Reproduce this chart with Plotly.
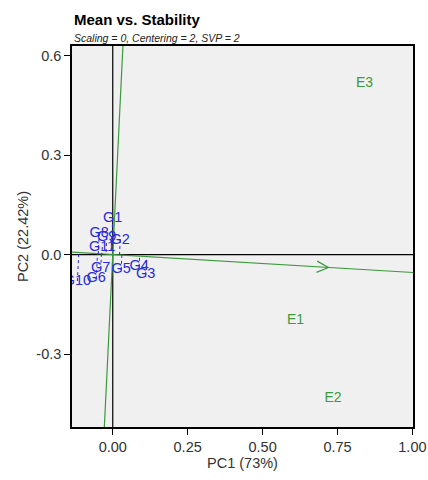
import numpy as np
import plotly.graph_objects as go

genotypes = ["G1", "G2", "G3", "G4", "G5", "G6", "G7", "G8", "G9", "G10", "G11"]
g_pc1 = [0.000, 0.025, 0.110, 0.088, 0.028, -0.055, -0.040, -0.045, -0.020, -0.118, -0.035]
g_pc2 = [0.110, 0.044, -0.061, -0.037, -0.046, -0.073, -0.043, 0.065, 0.053, -0.080, 0.023]

environments = ["E1", "E2", "E3"]
e_pc1 = [0.610, 0.735, 0.840]
e_pc2 = [-0.200, -0.435, 0.517]

x_range = [-0.136, 1.002]
y_range = [-0.52, 0.629]
x_ticks = [0.0, 0.25, 0.5, 0.75, 1.0]
x_ticklabels = ["0.00", "0.25", "0.50", "0.75", "1.00"]
y_ticks = [-0.3, 0.0, 0.3, 0.6]
y_ticklabels = ["-0.3", "0.0", "0.3", "0.6"]

green = "#3c9a3c"
blue = "#2a2ad8"
FONT = "Liberation Sans, Arial"

W, H = 428, 480
ML, MR, MT, MB = 72, 15, 46, 53
plot_h = H - MT - MB

# average environment coordinate (ATC direction)
avg = np.array([np.mean(e_pc1), np.mean(e_pc2)])
d = avg / np.linalg.norm(avg)
slope = d[1] / d[0]

fig = go.Figure()

# black axis lines through origin
fig.add_trace(go.Scatter(x=[0, 0], y=y_range, mode="lines",
                         line=dict(color="black", width=1.2), hoverinfo="skip"))
fig.add_trace(go.Scatter(x=x_range, y=[0, 0], mode="lines",
                         line=dict(color="black", width=1.2), hoverinfo="skip"))

# ATC abscissa
fig.add_trace(go.Scatter(x=x_range, y=[slope * x_range[0], slope * x_range[1]], mode="lines",
                         line=dict(color=green, width=1.2), hoverinfo="skip"))
# ATC ordinate
fig.add_trace(go.Scatter(x=[-slope * y_range[0], -slope * y_range[1]], y=y_range, mode="lines",
                         line=dict(color=green, width=1.2), hoverinfo="skip"))

# arrow chevron along ATC
tip_x = 0.72
tip = np.array([tip_x, slope * tip_x])
sx = (W - ML - MR) / (x_range[1] - x_range[0])
sy = plot_h / (y_range[1] - y_range[0])
dpx = np.array([d[0] * sx, -d[1] * sy])
dpx = dpx / np.linalg.norm(dpx)
def back(angle):
    c, s = np.cos(angle), np.sin(angle)
    v = -np.array([c * dpx[0] - s * dpx[1], s * dpx[0] + c * dpx[1]]) * 13
    return tip + np.array([v[0] / sx, -v[1] / sy])
p1, p2 = back(0.45), back(-0.45)
fig.add_trace(go.Scatter(x=[p1[0], tip[0], p2[0]], y=[p1[1], tip[1], p2[1]], mode="lines",
                         line=dict(color=green, width=1.2), hoverinfo="skip"))

# dotted projections of genotypes onto ATC abscissa
px, py = [], []
for gx, gy in zip(g_pc1, g_pc2):
    t = gx * d[0] + gy * d[1]
    px += [gx, t * d[0], None]
    py += [gy, t * d[1], None]
fig.add_trace(go.Scatter(x=px, y=py, mode="lines",
                         line=dict(color=blue, width=1, dash="dot"), hoverinfo="skip"))

fig.add_trace(go.Scatter(x=g_pc1, y=g_pc2, mode="text", text=genotypes,
                         textfont=dict(family=FONT, size=14.5, color=blue),
                         textposition="middle center"))
fig.add_trace(go.Scatter(x=e_pc1, y=e_pc2, mode="text", text=environments,
                         textfont=dict(family=FONT, size=14, color=green),
                         textposition="middle center"))

fig.update_layout(
    width=W, height=H,
    margin=dict(l=ML, r=MR, t=MT, b=MB, autoexpand=False),
    paper_bgcolor="white", plot_bgcolor="#f0f0f0",
    showlegend=False,
    font=dict(family=FONT, color="#333333"),
    annotations=[
        dict(text="<b>Mean vs. Stability</b>", xref="paper", yref="paper",
             x=0, y=1 + (MT - 20) / plot_h, xanchor="left", yanchor="middle",
             showarrow=False, font=dict(size=15, color="black")),
        dict(text="<i>Scaling = 0, Centering = 2, SVP = 2</i>", xref="paper", yref="paper",
             x=0, y=1 + (MT - 38) / plot_h, xanchor="left", yanchor="middle",
             showarrow=False, font=dict(size=10.5, color="#222222")),
    ],
)
fig.update_xaxes(range=x_range, tickvals=x_ticks, ticktext=x_ticklabels, automargin=False,
                 showgrid=False, zeroline=False, showline=True, mirror=True,
                 linecolor="black", linewidth=1.5, ticks="outside", ticklen=6,
                 tickcolor="black", tickfont=dict(size=14.5, color="#333333"),
                 title=dict(text="PC1 (73%)", font=dict(size=14.5, color="#333333"), standoff=3))
fig.update_yaxes(range=y_range, tickvals=y_ticks, ticktext=y_ticklabels, automargin=False,
                 showgrid=False, zeroline=False, showline=True, mirror=True,
                 linecolor="black", linewidth=1.5, ticks="outside", ticklen=6,
                 tickcolor="black", tickfont=dict(size=14.5, color="#333333"),
                 title=dict(text="PC2 (22.42%)", font=dict(size=14.5, color="#333333"), standoff=4))

fig.write_html("out.html")
